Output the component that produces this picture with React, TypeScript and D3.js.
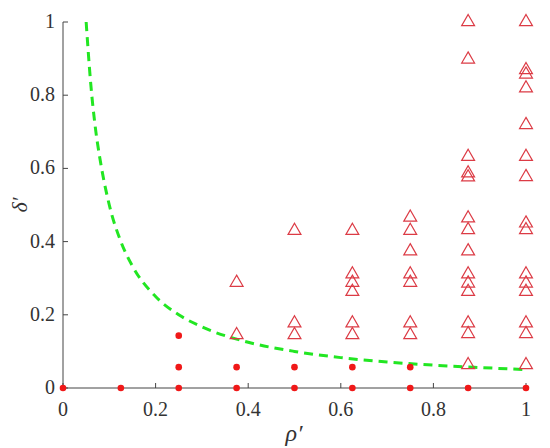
import React from 'react';
import { scaleLinear, line, curveMonotoneX, symbol, symbolTriangle } from 'd3';

// open triangles: [rho', delta']
const triRho = [
	0.375, 0.375,
	0.5, 0.5, 0.5,
	0.625, 0.625, 0.625, 0.625, 0.625, 0.625,
	0.75, 0.75, 0.75, 0.75, 0.75, 0.75, 0.75,
	0.875, 0.875, 0.875, 0.875, 0.875, 0.875, 0.875, 0.875, 0.875, 0.875, 0.875, 0.875, 0.875, 0.875,
	1, 1, 1, 1, 1, 1, 1, 1, 1, 1, 1, 1, 1, 1, 1,
];
const triDelta = [
	0.288, 0.145,
	0.43, 0.177, 0.145,
	0.43, 0.311, 0.288, 0.263, 0.177, 0.145,
	0.466, 0.43, 0.374, 0.311, 0.288, 0.177, 0.145,
	1.0, 0.898, 0.632, 0.587, 0.576, 0.464, 0.432, 0.374, 0.311, 0.286, 0.263, 0.177, 0.148, 0.063,
	1.0, 0.869, 0.857, 0.819, 0.719, 0.632, 0.577, 0.45, 0.432, 0.311, 0.286, 0.263, 0.177, 0.148, 0.063,
];

// filled dots
const dotRho = [0, 0.125, 0.25, 0.375, 0.5, 0.625, 0.75, 0.875, 1, 0.25, 0.25, 0.375, 0.5, 0.625, 0.75];
const dotDelta = [0, 0, 0, 0, 0, 0, 0, 0, 0, 0.143, 0.057, 0.057, 0.057, 0.057, 0.057];

// dashed boundary curve
const curveRho = [0.05, 0.06, 0.07, 0.08, 0.1, 0.125, 0.15, 0.2, 0.25, 0.3, 0.4, 0.5, 0.6, 0.7, 0.8, 0.9, 1];
const curveDelta = [1, 0.83, 0.71, 0.625, 0.5, 0.4, 0.333, 0.25, 0.2, 0.167, 0.125, 0.1, 0.083, 0.071, 0.0625, 0.056, 0.05];

const xTicks = [0, 0.2, 0.4, 0.6, 0.8, 1];
const yTicks = [0, 0.2, 0.4, 0.6, 0.8, 1];

const W = 550;
const H = 448;
const FONT = "'Liberation Serif', 'DejaVu Serif', 'Times New Roman', serif";
const AXIS = '#444';
const TXT = '#333';
const RED_TRI = '#dc3b45';
const RED_DOT = '#f01818';
const GREEN = '#22e622';

export default function App() {
	const x = scaleLinear().domain([0, 1]).range([63, 526]);
	const y = scaleLinear().domain([0, 1]).range([388, 22]);

	const curvePts = curveRho.map((r, i) => [r, curveDelta[i]] as [number, number]);
	const curvePath = line<[number, number]>()
		.x((d) => x(d[0]))
		.y((d) => y(d[1]))
		.curve(curveMonotoneX)(curvePts) || '';

	const tri = symbol().type(symbolTriangle).size(72)() || '';
	const txt = { fontFamily: FONT, fill: TXT };

	return (
		<svg
			width={W}
			height={H}
			style={{ position: 'absolute', left: 0, top: 0, background: '#fff' }}
		>
			<path d={curvePath} fill="none" stroke={GREEN} strokeWidth={3} strokeDasharray="9 6" />

			{/* axes */}
			<line x1={x(0)} x2={x(0)} y1={y(0)} y2={y(1)} stroke={AXIS} strokeWidth={1} />
			<line x1={x(0)} x2={x(1)} y1={y(0)} y2={y(0)} stroke={AXIS} strokeWidth={1} />
			{xTicks.map((t) => (
				<g key={`x${t}`}>
					<line x1={x(t)} x2={x(t)} y1={y(0)} y2={y(0) - 5} stroke={AXIS} />
					<text x={x(t)} y={y(0) + 28} textAnchor="middle" fontSize={20} style={txt}>
						{t}
					</text>
				</g>
			))}
			{yTicks.map((t) => (
				<g key={`y${t}`}>
					<line x1={x(0)} x2={x(0) + 5} y1={y(t)} y2={y(t)} stroke={AXIS} />
					<text x={x(0) - 8} y={y(t) + 6} textAnchor="end" fontSize={20} style={txt}>
						{t}
					</text>
				</g>
			))}

			{triRho.map((r, i) => (
				<path
					key={`t${i}`}
					d={tri}
					transform={`translate(${x(r)},${y(triDelta[i])})`}
					fill="none"
					stroke={RED_TRI}
					strokeWidth={1.2}
				/>
			))}
			{dotRho.map((r, i) => (
				<circle key={`d${i}`} cx={x(r)} cy={y(dotDelta[i])} r={3.3} fill={RED_DOT} />
			))}

			<text x={294} y={441} textAnchor="middle" fontSize={24} fontStyle="italic" style={txt}>
				ρ′
			</text>
			<text
				transform="translate(27,205) rotate(-90)"
				textAnchor="middle"
				fontSize={22}
				fontStyle="italic"
				style={txt}
			>
				δ′
			</text>
		</svg>
	);
}
